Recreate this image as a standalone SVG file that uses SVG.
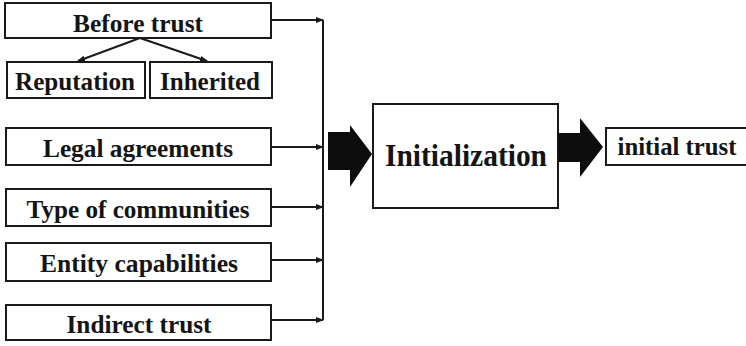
<svg xmlns="http://www.w3.org/2000/svg" width="746" height="346" viewBox="0 0 746 346">
<style>
.box{fill:#fff;stroke:#1a1a1a;stroke-width:2}
.t{font-family:"Times New Roman","Liberation Serif",Tinos,serif;font-weight:700;font-size:25px;fill:#141414;text-anchor:middle}
.big-t{font-size:31px}
.c{fill:none;stroke:#1a1a1a;stroke-width:2}
.big{fill:#0d0d0d}
</style>
<defs>
<marker id="ah" viewBox="0 0 8 8" refX="7" refY="4" markerWidth="4" markerHeight="4" orient="auto" markerUnits="strokeWidth">
<path d="M0,1 L8,4 L0,7 Z" fill="#1a1a1a"/>
</marker>
</defs>
<rect width="746" height="346" fill="#fff"/>
<g id="before-trust"><rect class="box" x="5" y="3" width="266" height="35"/><text class="t" x="138" y="32" textLength="130" lengthAdjust="spacingAndGlyphs">Before trust</text></g>
<g id="reputation"><rect class="box" x="7" y="62" width="138" height="36"/><text class="t" x="75" y="90" textLength="120" lengthAdjust="spacingAndGlyphs">Reputation</text></g>
<g id="inherited"><rect class="box" x="150" y="62" width="122" height="36"/><text class="t" x="210" y="90" textLength="100" lengthAdjust="spacingAndGlyphs">Inherited</text></g>
<g id="legal"><rect class="box" x="6" y="128" width="265" height="37"/><text class="t" x="138" y="157" textLength="190" lengthAdjust="spacingAndGlyphs">Legal agreements</text></g>
<g id="type"><rect class="box" x="6" y="189" width="265" height="37"/><text class="t" x="138" y="218" textLength="223" lengthAdjust="spacingAndGlyphs">Type of communities</text></g>
<g id="entity"><rect class="box" x="6" y="243" width="265" height="38"/><text class="t" x="139" y="272" textLength="198" lengthAdjust="spacingAndGlyphs">Entity capabilities</text></g>
<g id="indirect"><rect class="box" x="6" y="305" width="265" height="35"/><text class="t" x="139" y="333" textLength="145" lengthAdjust="spacingAndGlyphs">Indirect trust</text></g>
<g id="initialization"><rect class="box" x="373" y="104" width="185" height="104"/><text class="t big-t" x="466" y="166" textLength="162" lengthAdjust="spacingAndGlyphs">Initialization</text></g>
<g id="initial-trust"><rect class="box" x="606" y="128" width="145" height="37"/><text class="t" x="677" y="155" textLength="119" lengthAdjust="spacingAndGlyphs">initial trust</text></g>
<g id="connectors">
<path class="c" d="M140,38 L78,61" marker-end="url(#ah)"/>
<path class="c" d="M140,38 L207,61" marker-end="url(#ah)"/>
<path class="c" d="M323,20 L323,320"/>
<path class="c" d="M271,20 L323,20" marker-end="url(#ah)"/>
<path class="c" d="M271,147 L323,147" marker-end="url(#ah)"/>
<path class="c" d="M271,207 L323,207" marker-end="url(#ah)"/>
<path class="c" d="M271,260 L323,260" marker-end="url(#ah)"/>
<path class="c" d="M271,320 L323,320" marker-end="url(#ah)"/>
<path class="big" d="M328,132 L350,132 L350,125 L372,154 L350,187 L350,170 L328,170 Z"/>
<path class="big" d="M558,133 L580,133 L580,118 L603,147 L580,177 L580,162 L558,162 Z"/>
</g>
</svg>
